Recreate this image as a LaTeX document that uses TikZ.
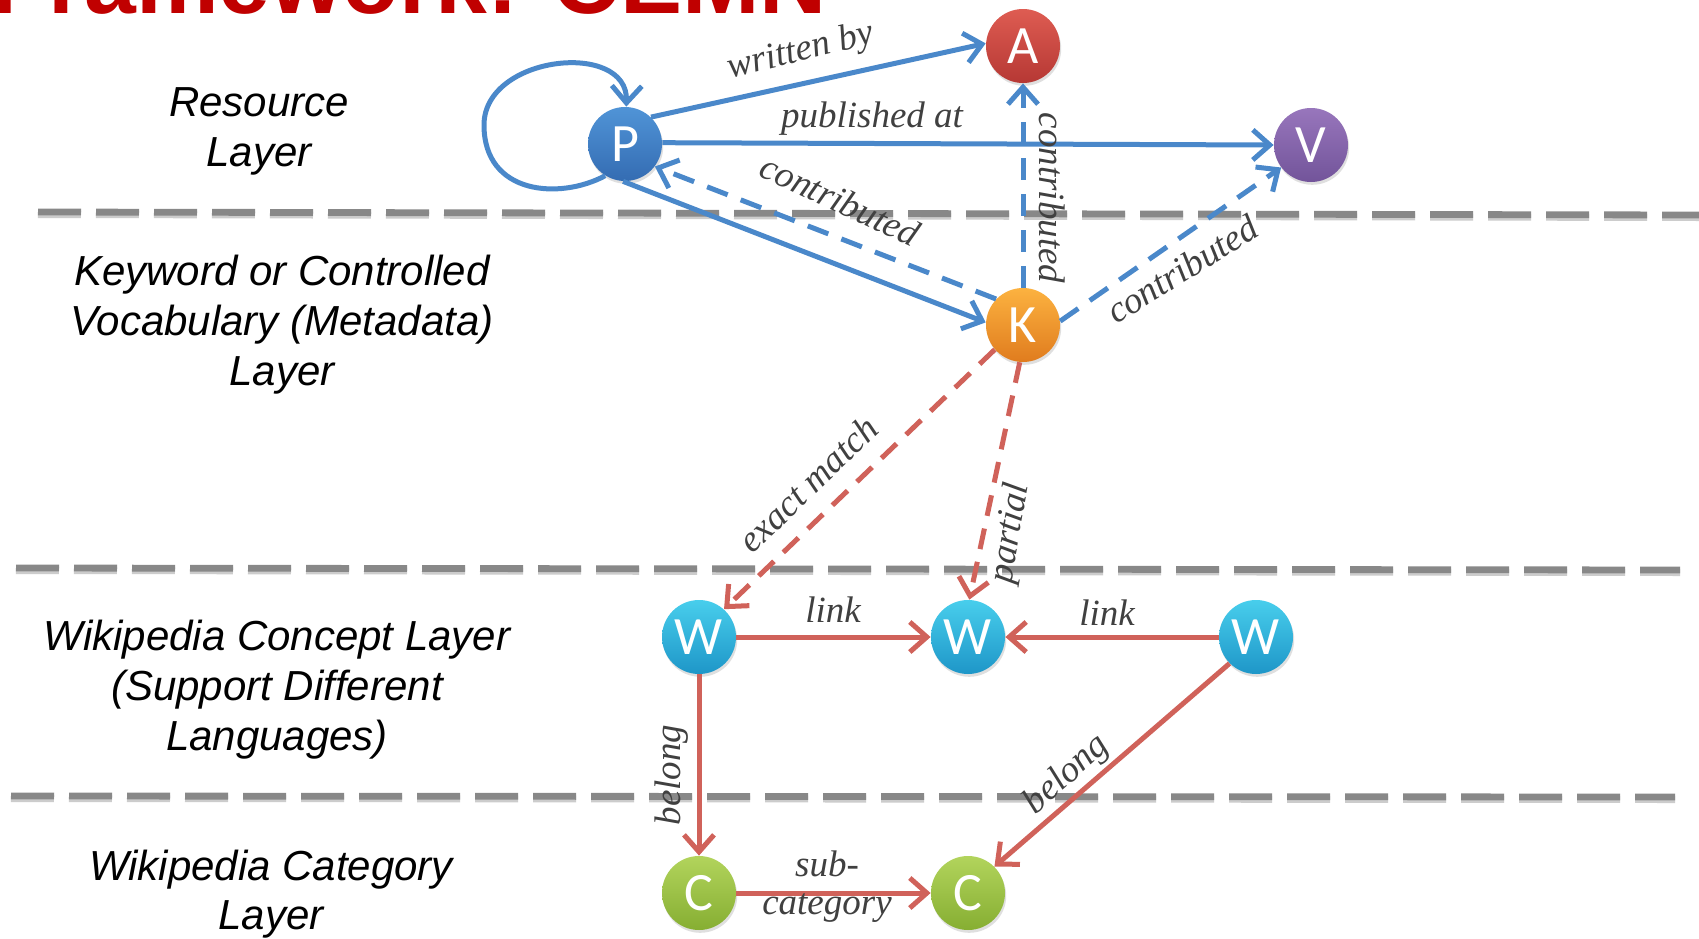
\documentclass[tikz,border=0pt]{standalone}
\usepackage{fontspec}
\setmainfont{Liberation Serif}
\newfontfamily\layerfont{Liberation Sans}
\newfontfamily\ballfont{Carlito}
\usetikzlibrary{arrows.meta,shadows}

\definecolor{edgeblue}{RGB}{74,136,202}
\definecolor{edgered}{RGB}{208,98,90}
\definecolor{lblgray}{RGB}{64,64,64}
\definecolor{divgray}{RGB}{136,136,136}
\definecolor{titlered}{RGB}{192,0,0}

\tikzset{
  ent/.style={circle, minimum size=37pt, inner sep=0pt, text=white,
    font=\ballfont\fontsize{27}{27}\selectfont,
    drop shadow={shadow xshift=0.6pt, shadow yshift=-1.4pt, opacity=0.25}},
  pnode/.style={ent, top color={rgb,255:red,80;green,148;blue,215}, bottom color={rgb,255:red,52;green,108;blue,178}},
  anode/.style={ent, top color={rgb,255:red,222;green,92;blue,82}, bottom color={rgb,255:red,182;green,56;blue,52}},
  vnode/.style={ent, top color={rgb,255:red,152;green,118;blue,188}, bottom color={rgb,255:red,114;green,84;blue,154}},
  knode/.style={ent, top color={rgb,255:red,252;green,178;blue,64}, bottom color={rgb,255:red,224;green,124;blue,30}},
  wnode/.style={ent, top color={rgb,255:red,72;green,206;blue,236}, bottom color={rgb,255:red,30;green,150;blue,200}},
  cnode/.style={ent, top color={rgb,255:red,178;green,212;blue,92}, bottom color={rgb,255:red,134;green,174;blue,50}},
  layer/.style={font=\layerfont\itshape\fontsize{21}{25}\selectfont, text=black, inner sep=0pt, anchor=base},
  lbl/.style={font=\itshape\fontsize{18.5}{22}\selectfont, text=lblgray, inner sep=0pt},
  tip/.style={-{Straight Barb[length=8.5pt,width=15pt]}},
  blueline/.style={draw=edgeblue, line width=2.5pt, tip},
  bluedash/.style={blueline, dash pattern=on 11pt off 7pt},
  redline/.style={draw=edgered, line width=2.5pt, tip},
  reddash/.style={redline, dash pattern=on 10.5pt off 6.5pt},
  divider/.style={draw=divgray, line width=3.4pt, dash pattern=on 21.5pt off 7.5pt},
  dividershade/.style={draw=black!20, line width=3.4pt, dash pattern=on 21.5pt off 7.5pt},
}

\begin{document}
\begin{tikzpicture}[x=0.5pt,y=-0.5pt]
\useasboundingbox (0,0) rectangle (1699,938);
\fill[white] (0,0) rectangle (1699,938);
\clip (0,0) rectangle (1699,938);

% heading, only its lower part falls inside the page
\node[anchor=base west, inner sep=0pt, text=titlered,
      font=\layerfont\bfseries\fontsize{46.5}{46.5}\selectfont] (title) at (-9,13) {Framework: CEMN};

% layer dividers
\coordinate (d1a) at (38,212);   \coordinate (d1b) at (1699,215);
\coordinate (d2a) at (16,568);   \coordinate (d2b) at (1680,570);
\coordinate (d3a) at (11,796);   \coordinate (d3b) at (1675,797);
\draw[dividershade] ([yshift=-1.3pt]d1a) -- ([yshift=-1.3pt]d1b);
\draw[dividershade] ([yshift=-1.3pt]d2a) -- ([yshift=-1.3pt]d2b);
\draw[dividershade] ([yshift=-1.3pt]d3a) -- ([yshift=-1.3pt]d3b);
\draw[divider] (d1a) -- (d1b);
\draw[divider] (d2a) -- (d2b);
\draw[divider] (d3a) -- (d3b);

% layer names
\node[layer] (lr1) at (259,116) {Resource};
\node[layer] (lr2) at (259,166) {Layer};
\node[layer] (lk1) at (282,285) {Keyword or Controlled};
\node[layer] (lk2) at (282,335) {Vocabulary (Metadata)};
\node[layer] (lk3) at (282,385) {Layer};
\node[layer] (lw1) at (277,650) {Wikipedia Concept Layer};
\node[layer] (lw2) at (277,700) {(Support Different};
\node[layer] (lw3) at (277,750) {Languages)};
\node[layer] (lc1) at (271,880) {Wikipedia Category};
\node[layer] (lc2) at (271,929) {Layer};

% entities
\node[pnode] (P)  at (625,144) {P};
\node[anode] (A)  at (1023,46) {A};
\node[vnode] (V)  at (1311,145) {V};
\node[knode] (K)  at (1023,325) {K};
\node[wnode] (W1) at (699,637) {W};
\node[wnode] (W2) at (968,637) {W};
\node[wnode] (W3) at (1256,637) {W};
\node[cnode] (C1) at (699,893) {C};
\node[cnode] (C2) at (968,893) {C};

% resource layer relations
\draw[blueline] (P.238) .. controls (560,200) and (484,195) .. (484,125)
                        .. controls (484,55) and (628,40) .. (P.88);
\draw[blueline] (P.46) -- (A.176);
\draw[blueline] (P.2) -- (V.west);
\draw[blueline] (P.-93) -- (K.176);
\draw[bluedash] (K.136) -- (P.-37);
\draw[bluedash] (K.north) -- (A.south);
\draw[bluedash] (K.6) -- (V.217);

% keyword to concept mapping
\draw[reddash] (K.221) -- (W1.48);
\draw[reddash] (K.265) -- (W2.88);

% concept and category relations
\draw[redline] (W1.east) -- (W2.west);
\draw[redline] (W3.west) -- (W2.east);
\draw[redline] (W1.south) -- (C1.north);
\draw[redline] (W3.225) -- (C2.45);
\draw[redline] (C1.east) -- (C2.west);

% relation names
\node[lbl, rotate=14]  (t1)  at (801,52)   {written by};
\node[lbl]             (t2)  at (872,119)  {published at};
\node[lbl, rotate=-25] (t3)  at (840,200)  {contributed};
\node[lbl, rotate=-90] (t4)  at (1052,198) {contributed};
\node[lbl, rotate=32]  (t5)  at (1182,269) {contributed};
\node[lbl, rotate=44]  (t6)  at (808,484)  {exact match};
\node[lbl, rotate=80]  (t7)  at (1011,533) {partial};
\node[lbl]             (t8)  at (833,610)  {link};
\node[lbl]             (t9)  at (1107,613) {link};
\node[lbl, rotate=90]  (t10) at (672,775)  {belong};
\node[lbl, rotate=42]  (t11) at (1067,775) {belong};
\node[lbl]             (t12) at (827,864)  {sub-};
\node[lbl]             (t13) at (827,908)  {category};
\end{tikzpicture}
\end{document}
